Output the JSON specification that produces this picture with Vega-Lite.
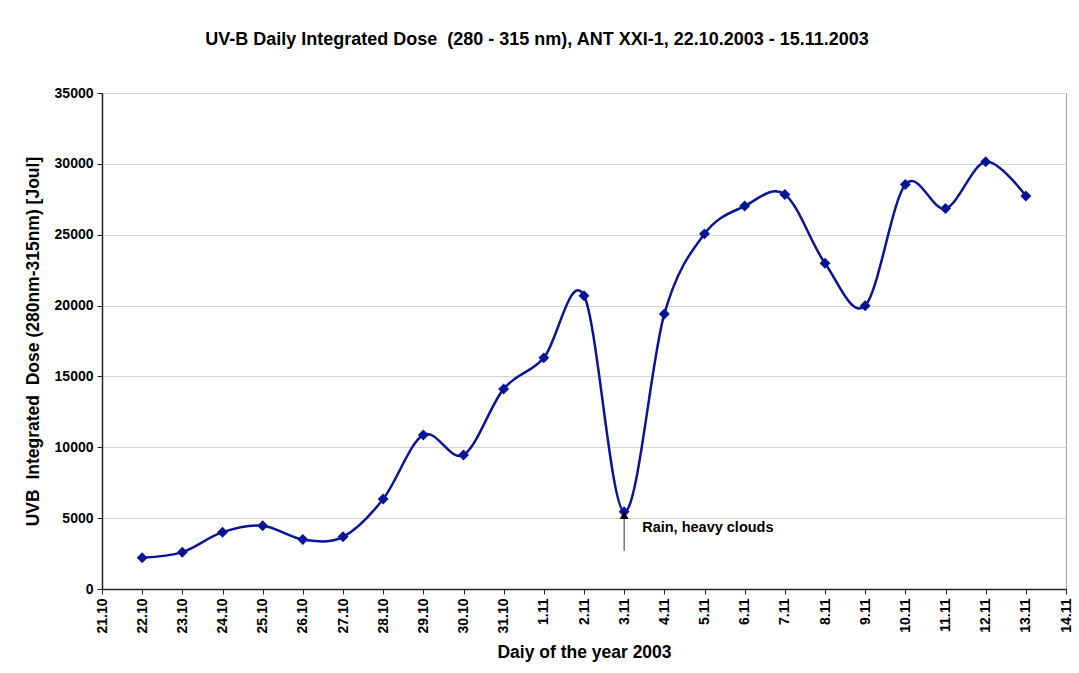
{
  "$schema": "https://vega.github.io/schema/vega-lite/v6.json",
  "autosize": {"type": "none"},
  "width": 964,
  "height": 496,
  "padding": {"left": 102, "top": 93, "right": 13, "bottom": 84},
  "background": "white",
  "title": {
    "text": "UV-B Daily Integrated Dose \u00a0(280 - 315 nm), ANT XXI-1, 22.10.2003 - 15.11.2003",
    "font": "Liberation Sans",
    "fontSize": 18,
    "fontWeight": "bold",
    "color": "black",
    "anchor": "middle",
    "dx": -47,
    "offset": 37
  },
  "config": {
    "view": {"stroke": "#a6a6a6", "strokeWidth": 1},
    "axis": {
      "labelFont": "Liberation Sans",
      "labelFontWeight": "bold",
      "labelFontSize": 14,
      "labelColor": "black",
      "titleFont": "Liberation Sans",
      "titleFontWeight": "bold",
      "titleColor": "black",
      "domainColor": "#222222",
      "tickColor": "#222222",
      "domainWidth": 1.5
    }
  },
  "datasets": {
    "dose": [
      {"day": "22.10", "dose": 2200},
      {"day": "23.10", "dose": 2600},
      {"day": "24.10", "dose": 4010},
      {"day": "25.10", "dose": 4470},
      {"day": "26.10", "dose": 3490},
      {"day": "27.10", "dose": 3680},
      {"day": "28.10", "dose": 6350},
      {"day": "29.10", "dose": 10870},
      {"day": "30.10", "dose": 9460},
      {"day": "31.10", "dose": 14120},
      {"day": "1.11", "dose": 16310},
      {"day": "2.11", "dose": 20700},
      {"day": "3.11", "dose": 5450},
      {"day": "4.11", "dose": 19410},
      {"day": "5.11", "dose": 25060},
      {"day": "6.11", "dose": 27020},
      {"day": "7.11", "dose": 27840},
      {"day": "8.11", "dose": 22980},
      {"day": "9.11", "dose": 19990},
      {"day": "10.11", "dose": 28540},
      {"day": "11.11", "dose": 26850},
      {"day": "12.11", "dose": 30150},
      {"day": "13.11", "dose": 27730}
    ],
    "note": [
      {"day": "3.11", "tip": 5350, "low": 2700, "texty": 4300, "label": "Rain, heavy clouds"}
    ]
  },
  "layer": [
    {
      "data": {"name": "dose"},
      "mark": {"type": "line", "interpolate": "cardinal", "color": "#0a1496", "strokeWidth": 2.5},
      "encoding": {
        "x": {
          "field": "day",
          "type": "ordinal",
          "sort": null,
          "scale": {
            "type": "point",
            "padding": 0,
            "domain": ["21.10","22.10","23.10","24.10","25.10","26.10","27.10","28.10","29.10","30.10","31.10","1.11","2.11","3.11","4.11","5.11","6.11","7.11","8.11","9.11","10.11","11.11","12.11","13.11","14.11"]
          },
          "axis": {
            "title": "Daiy of the year 2003",
            "titleFontSize": 17.5,
            "titlePadding": 10,
            "labelAngle": -90,
            "labelPadding": 4,
            "tickSize": 5,
            "grid": false
          }
        },
        "y": {
          "field": "dose",
          "type": "quantitative",
          "scale": {"domain": [0, 35000], "nice": false},
          "axis": {
            "title": "UVB \u00a0Integrated \u00a0Dose (280nm-315nm) [Joul]",
            "titleFontSize": 17.5,
            "titlePadding": 12,
            "values": [0, 5000, 10000, 15000, 20000, 25000, 30000, 35000],
            "format": "d",
            "tickSize": 5,
            "labelPadding": 4,
            "grid": true,
            "gridColor": "#d4d4d4",
            "gridWidth": 1
          }
        }
      }
    },
    {
      "data": {"name": "dose"},
      "mark": {"type": "point", "shape": "diamond", "filled": true, "size": 120, "color": "#0a1496", "opacity": 1},
      "encoding": {
        "x": {"field": "day", "type": "ordinal", "sort": null},
        "y": {"field": "dose", "type": "quantitative"}
      }
    },
    {
      "data": {"name": "note"},
      "mark": {"type": "rule", "color": "#555555", "strokeWidth": 1.2},
      "encoding": {
        "x": {"field": "day", "type": "ordinal", "sort": null},
        "y": {"field": "tip", "type": "quantitative"},
        "y2": {"field": "low"}
      }
    },
    {
      "data": {"name": "note"},
      "mark": {"type": "point", "shape": "triangle-up", "filled": true, "size": 80, "color": "black", "opacity": 1, "yOffset": 2},
      "encoding": {
        "x": {"field": "day", "type": "ordinal", "sort": null},
        "y": {"field": "tip", "type": "quantitative"}
      }
    },
    {
      "data": {"name": "note"},
      "mark": {"type": "text", "align": "left", "baseline": "middle", "dx": 18, "font": "Liberation Sans", "fontWeight": "bold", "fontSize": 14.5, "color": "black"},
      "encoding": {
        "x": {"field": "day", "type": "ordinal", "sort": null},
        "y": {"field": "texty", "type": "quantitative"},
        "text": {"field": "label"}
      }
    }
  ]
}
